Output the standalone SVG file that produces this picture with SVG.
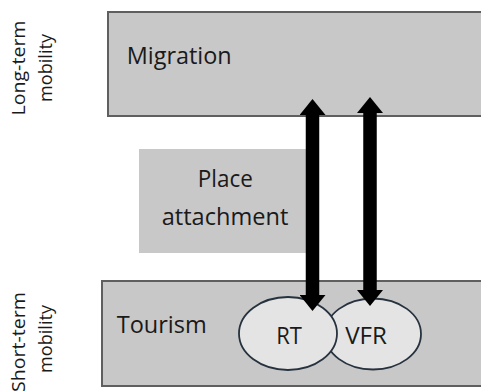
<svg xmlns="http://www.w3.org/2000/svg" width="481" height="391" viewBox="0 0 481 391">
<style>
.box{fill:#c8c8c8;stroke:#5f5f5f;stroke-width:2}
.plain{fill:#c8c8c8;stroke:none}
.ell{fill:#e4e4e4;stroke:#26323e;stroke-width:1.8}
text{font-family:"Open Sans","Noto Sans",sans-serif;fill:#1a1a1a}
.lbl{font-size:24px}
.side{font-size:19px}
.arrow{stroke:#000;stroke-width:13.5;fill:none}
</style>
<defs>
<marker id="head" viewBox="0 0 16 26" refX="1" refY="13" markerWidth="16" markerHeight="26" markerUnits="userSpaceOnUse" orient="auto-start-reverse">
<path d="M0,0 L16,13 L0,26 Z" fill="#000"/>
</marker>
</defs>
<rect width="481" height="391" fill="#fff"/>
<g id="side-labels">
<text class="side" text-anchor="middle" transform="translate(25,68) rotate(-90)" textLength="95" lengthAdjust="spacingAndGlyphs">Long-term</text>
<text class="side" text-anchor="middle" transform="translate(52,68) rotate(-90)" textLength="68" lengthAdjust="spacingAndGlyphs">mobility</text>
<text class="side" text-anchor="middle" transform="translate(25,342) rotate(-90)" textLength="100" lengthAdjust="spacingAndGlyphs">Short-term</text>
<text class="side" text-anchor="middle" transform="translate(52,339) rotate(-90)" textLength="68" lengthAdjust="spacingAndGlyphs">mobility</text>
</g>
<g id="migration">
<rect class="box" x="108" y="12" width="385" height="104"/>
<text class="lbl" x="126.7" y="64.3" textLength="105" lengthAdjust="spacingAndGlyphs">Migration</text>
</g>
<g id="place-attachment">
<rect class="plain" x="139" y="149" width="167" height="104"/>
<text class="lbl" x="225.3" y="186.7" text-anchor="middle" textLength="55" lengthAdjust="spacingAndGlyphs">Place</text>
<text class="lbl" x="225" y="224.5" text-anchor="middle" textLength="126.6" lengthAdjust="spacingAndGlyphs">attachment</text>
</g>
<g id="tourism">
<rect class="box" x="102" y="281" width="391" height="105"/>
<text class="lbl" x="116.7" y="333.3" textLength="90" lengthAdjust="spacingAndGlyphs">Tourism</text>
</g>
<g id="vfr">
<ellipse class="ell" cx="373" cy="334" rx="48" ry="35.5"/>
<text class="lbl" x="366" y="344" text-anchor="middle" textLength="41.7" lengthAdjust="spacingAndGlyphs">VFR</text>
</g>
<g id="rt">
<ellipse class="ell" cx="288" cy="333.5" rx="49" ry="36.5"/>
<text class="lbl" x="289" y="344" text-anchor="middle" textLength="25.7" lengthAdjust="spacingAndGlyphs">RT</text>
</g>
<g id="connectors">
<line class="arrow" x1="312.5" y1="114" x2="312.5" y2="296" marker-start="url(#head)" marker-end="url(#head)"/>
<line class="arrow" x1="370" y1="112" x2="370" y2="291" marker-start="url(#head)" marker-end="url(#head)"/>
</g>
</svg>
